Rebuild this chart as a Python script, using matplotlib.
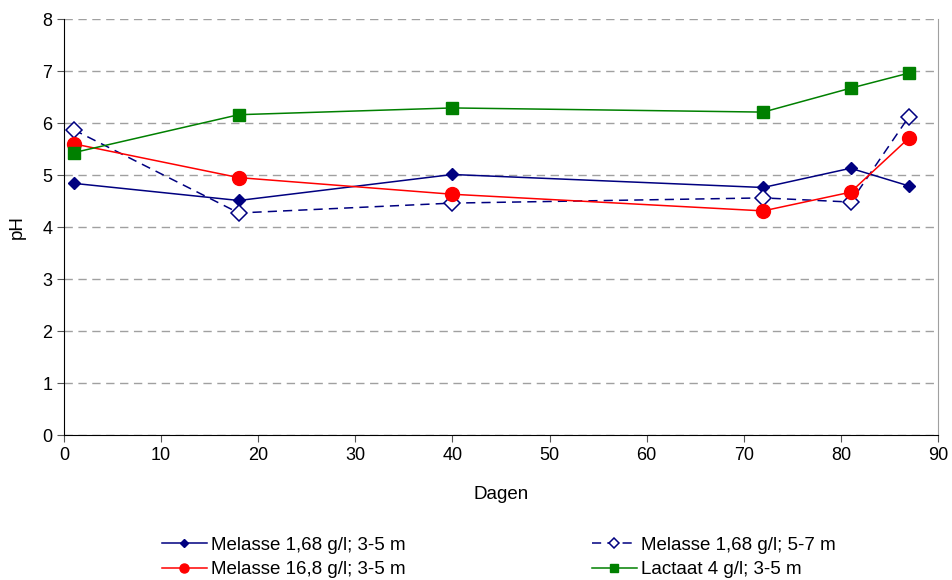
import matplotlib.pyplot as plt

plt.rcParams['font.family'] = ['Liberation Sans', 'DejaVu Sans']

# Data
dagen = [1, 18, 40, 72, 81, 87]
mel_168_35 = [4.84, 4.51, 5.01, 4.76, 5.13, 4.79]
mel_168_57 = [5.87, 4.27, 4.46, 4.56, 4.48, 6.12]
mel_168_high = [5.60, 4.95, 4.63, 4.31, 4.67, 5.71]
lactaat = [5.43, 6.16, 6.29, 6.21, 6.67, 6.96]

labels = ['Melasse 1,68 g/l; 3-5 m', 'Melasse 1,68 g/l; 5-7 m',
          'Melasse 16,8 g/l; 3-5 m', 'Lactaat 4 g/l; 3-5 m']

fig = plt.figure(figsize=(9.52, 5.8), dpi=100)
ax = fig.add_axes([0.0672, 0.25, 0.9181, 0.7172])

navy = '#000080'
l1, = ax.plot(dagen, mel_168_35, color=navy, lw=1.1, marker='D', ms=6.5,
              mfc=navy, mec=navy, label=labels[0], zorder=3)
l2, = ax.plot(dagen, mel_168_57, color=navy, lw=1.1, ls=(0, (6, 4)), marker='D',
              ms=8.5, mfc='white', mec=navy, mew=1.1, label=labels[1], zorder=3)
l3, = ax.plot(dagen, mel_168_high, color='#ff0000', lw=1.1, marker='o', ms=10,
              mfc='#ff0000', mec='#ff0000', label=labels[2], zorder=3)
l4, = ax.plot(dagen, lactaat, color='#008000', lw=1.1, marker='s', ms=8.5,
              mfc='#008000', mec='#008000', label=labels[3], zorder=3)

ax.set_xlim(0, 90)
ax.set_ylim(0, 8)
ax.set_xticks(range(0, 91, 10))
ax.set_yticks(range(0, 9))
ax.yaxis.grid(True, color='#a0a0a0', ls=(0, (6, 4)), lw=1)
ax.set_axisbelow(True)

ax.spines['top'].set_visible(False)
ax.spines['right'].set_color('#a0a0a0')
ax.spines['left'].set_color('black')
ax.spines['bottom'].set_color('black')
ax.tick_params(direction='out', length=5, labelsize=13, color='#555555')

ax.set_xlabel('Dagen', fontsize=13.5, labelpad=16)
ax.set_ylabel('pH', fontsize=13.5, labelpad=12)

fig.legend([l1, l3, l2, l4], [labels[0], labels[2], labels[1], labels[3]],
           ncol=2, frameon=False, fontsize=13.5, loc='upper left',
           bbox_to_anchor=(0.152, 0.104), handlelength=2.4,
           handletextpad=0.25, columnspacing=9.9, labelspacing=0.4,
           markerscale=0.65)

fig.savefig('out.png', dpi=100)
